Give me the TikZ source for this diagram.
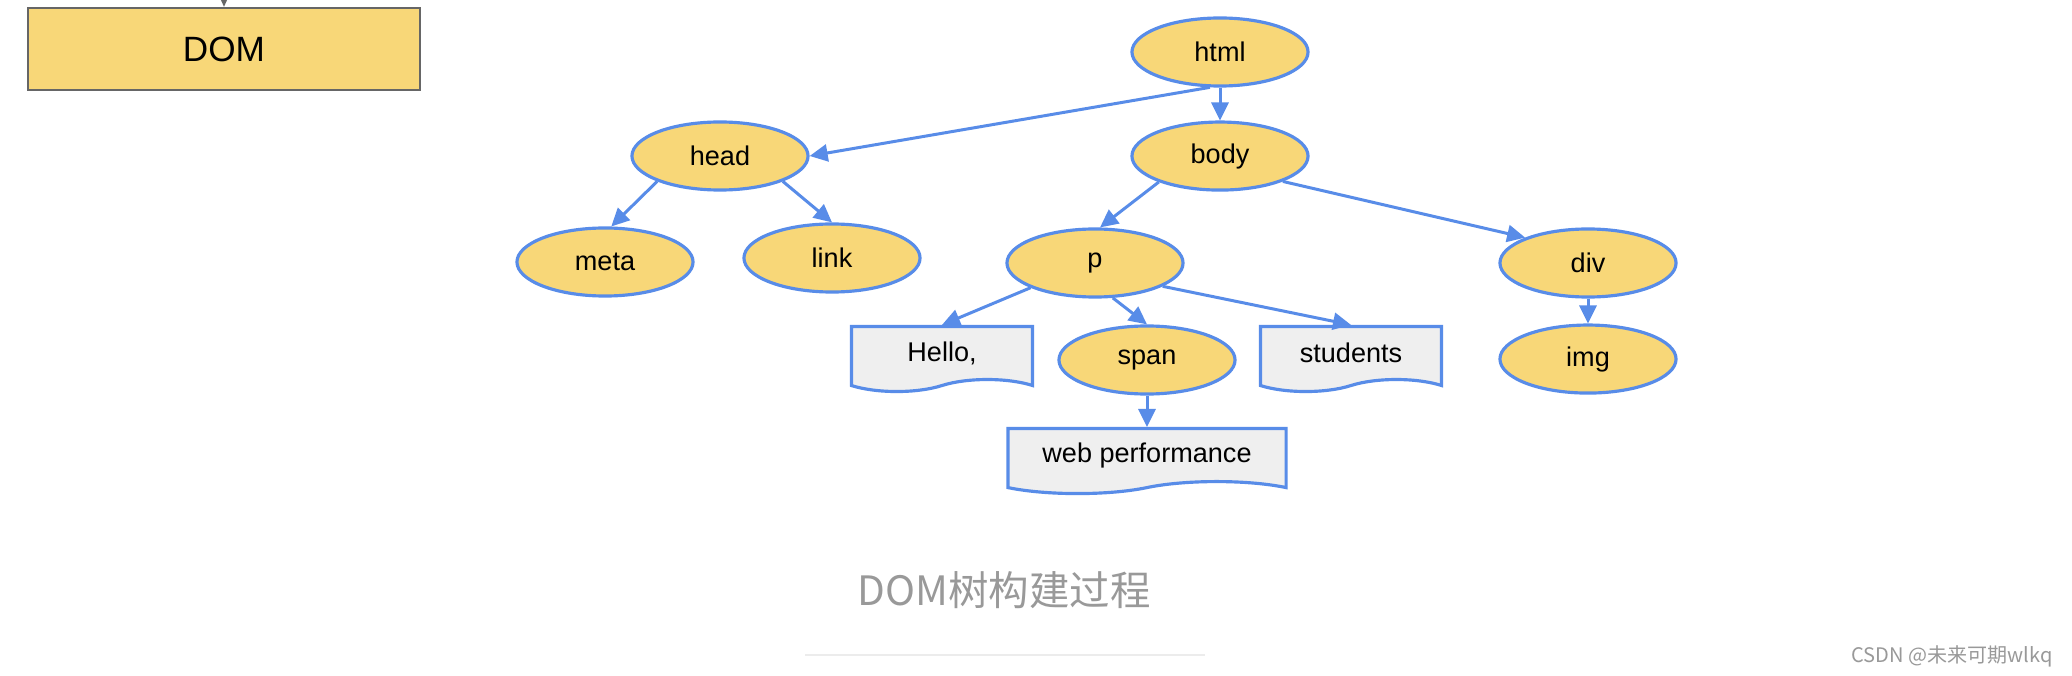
\documentclass[tikz,border=0pt]{standalone}
\usepackage{fontspec}
\setmainfont{Liberation Sans}
\newfontfamily\cjkfont{Noto Sans CJK SC}
\usetikzlibrary{shapes.geometric,shapes.symbols,arrows.meta}
\definecolor{tagyellow}{RGB}{248,215,120}
\definecolor{linkblue}{RGB}{88,140,232}
\definecolor{leafgray}{RGB}{239,239,239}
\definecolor{domborder}{RGB}{102,102,102}
\definecolor{captiongray}{RGB}{153,153,153}
\definecolor{rulegray}{RGB}{236,236,236}
\tikzstyle{tag} = [draw=linkblue, fill=tagyellow, ellipse, line width=0.9pt,
    minimum width=1.76cm, minimum height=0.68cm, inner sep=0pt,
    font=\fontsize{7.7}{9}\selectfont]
\tikzstyle{leaf} = [draw=linkblue, fill=leafgray, tape, tape bend top=none,
    tape bend height=0.12cm, line width=0.9pt, minimum width=1.81cm,
    minimum height=0.65cm, inner sep=0pt, font=\fontsize{7.7}{9}\selectfont]
\tikzstyle{dombox} = [draw=domborder, fill=tagyellow, rectangle, line width=0.6pt,
    minimum width=3.92cm, minimum height=0.82cm, font=\fontsize{10}{12}\selectfont]
\tikzstyle{branch} = [draw=linkblue, line width=0.85pt, -{Triangle[length=0.18cm,width=0.17cm]}]

\begin{document}
\begin{tikzpicture}[x=0.01cm, y=-0.01cm]
    \fill [white] (0,0) rectangle (2072,676);
    \useasboundingbox (0,0) rectangle (2072,676);
    % left: the box from the previous step
    \coordinate (domin) at (224,-30);
    \node [dombox] (dom) at (224,49) {DOM};
    \draw [domborder, line width=0.6pt, -{Triangle[length=0.14cm,width=0.12cm]}] (domin) -- (dom.north);
    % the tree
    \node [tag] (html) at (1220,52) {html};
    \node [tag, below of=html, node distance=1.04cm] (body) {body};
    \node [tag] (head) at (720,156) {head};
    \node [tag] (meta) at (605,262) {meta};
    \node [tag] (link) at (832,258) {link};
    \node [tag] (p) at (1095,263) {p};
    \node [tag] (div) at (1588,263) {div};
    \node [tag, below of=div, node distance=0.96cm] (img) {img};
    \node [leaf] (hello) at (942,353) {Hello,};
    \node [tag] (span) at (1147,360) {span};
    \node [leaf] (students) at (1351,353) {students};
    \node [leaf, minimum width=2.78cm, below of=span, node distance=0.95cm] (web) {web performance};
    \draw [branch] (html.254) -- (head.east);
    \draw [branch] (html.south) -- (body.north);
    \draw [branch] (head.202) -- (meta.80);
    \draw [branch] (head.338) -- (link.north);
    \draw [branch] (body.203) -- (p.82);
    \draw [branch] (body.338) -- (div.158);
    \draw [branch] (p.201) -- (hello.north);
    \draw [branch] (p.297) -- (span.north);
    \draw [branch] (p.341) -- (students.north);
    \draw [branch] (span.south) -- (web.north);
    \draw [branch] (div.south) -- (img.north);
    % caption
    \node [text=captiongray, font=\fontsize{11.5}{14}\selectfont] (caption) at (1004,590) {\cjkfont DOM树构建过程};
    \coordinate (ruleL) at (805,655);
    \coordinate (ruleR) at (1205,655);
    \draw [rulegray, line width=0.85pt] (ruleL) -- (ruleR);
    \node [text=captiongray, font=\fontsize{5.7}{7}\selectfont] (mark) at (1952,656) {\cjkfont CSDN @未来可期wlkq};
\end{tikzpicture}
\end{document}
